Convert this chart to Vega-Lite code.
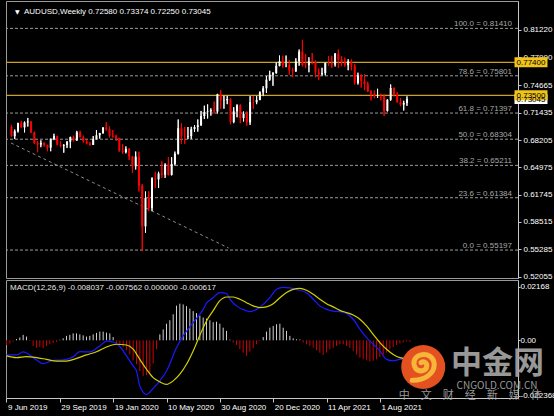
{
  "$schema": "https://vega.github.io/schema/vega-lite/v6.json",
  "background": "#000000",
  "padding": {"left": 3, "top": 0, "right": 0, "bottom": 0},
  "bounds": "flush",
  "spacing": 2,
  "config": {
    "view": {"stroke": "#9a9a9a", "strokeWidth": 1},
    "font": "Liberation Sans",
    "axis": {"labelFont": "Liberation Sans", "labelFontSize": 8, "labelColor": "#ffffff", "domainColor": "#c8c8c8", "tickColor": "#c8c8c8", "grid": false}
  },
  "datasets": {
    "candles": [
      {"d":"2019-06-09","o":0.6975,"h":0.7000,"l":0.6862,"c":0.6866,"m":-0.0019},
      {"d":"2019-06-16","o":0.6866,"h":0.6945,"l":0.6832,"c":0.6925,"m":-0.0013},
      {"d":"2019-06-23","o":0.6925,"h":0.7025,"l":0.6910,"c":0.7020,"m":-0.0005},
      {"d":"2019-06-30","o":0.7020,"h":0.7048,"l":0.6966,"c":0.6970,"m":0.0005},
      {"d":"2019-07-07","o":0.6970,"h":0.7040,"l":0.6911,"c":0.7030,"m":0.0011},
      {"d":"2019-07-14","o":0.7030,"h":0.7082,"l":0.6980,"c":0.7040,"m":0.0022},
      {"d":"2019-07-21","o":0.7040,"h":0.7045,"l":0.6906,"c":0.6910,"m":0.0015},
      {"d":"2019-07-28","o":0.6910,"h":0.6920,"l":0.6773,"c":0.6788,"m":-0.0003},
      {"d":"2019-08-04","o":0.6788,"h":0.6810,"l":0.6677,"c":0.6767,"m":-0.0023},
      {"d":"2019-08-11","o":0.6767,"h":0.6817,"l":0.6736,"c":0.6785,"m":-0.0030},
      {"d":"2019-08-18","o":0.6785,"h":0.6793,"l":0.6743,"c":0.6760,"m":-0.0027},
      {"d":"2019-08-25","o":0.6760,"h":0.6765,"l":0.6688,"c":0.6730,"m":-0.0032},
      {"d":"2019-09-01","o":0.6730,"h":0.6838,"l":0.6688,"c":0.6835,"m":-0.0023},
      {"d":"2019-09-08","o":0.6835,"h":0.6895,"l":0.6820,"c":0.6866,"m":-0.0016},
      {"d":"2019-09-15","o":0.6866,"h":0.6871,"l":0.6759,"c":0.6766,"m":-0.0011},
      {"d":"2019-09-22","o":0.6766,"h":0.6809,"l":0.6734,"c":0.6752,"m":-0.0007},
      {"d":"2019-09-29","o":0.6752,"h":0.6772,"l":0.6671,"c":0.6761,"m":0.0002},
      {"d":"2019-10-06","o":0.6761,"h":0.6809,"l":0.6726,"c":0.6800,"m":0.0008},
      {"d":"2019-10-13","o":0.6800,"h":0.6860,"l":0.6725,"c":0.6855,"m":0.0018},
      {"d":"2019-10-20","o":0.6855,"h":0.6871,"l":0.6803,"c":0.6818,"m":0.0022},
      {"d":"2019-10-27","o":0.6818,"h":0.6929,"l":0.6810,"c":0.6912,"m":0.0028},
      {"d":"2019-11-03","o":0.6912,"h":0.6930,"l":0.6851,"c":0.6855,"m":0.0028},
      {"d":"2019-11-10","o":0.6855,"h":0.6873,"l":0.6790,"c":0.6806,"m":0.0024},
      {"d":"2019-11-17","o":0.6806,"h":0.6829,"l":0.6770,"c":0.6780,"m":0.0020},
      {"d":"2019-11-24","o":0.6780,"h":0.6797,"l":0.6754,"c":0.6763,"m":0.0015},
      {"d":"2019-12-01","o":0.6763,"h":0.6867,"l":0.6763,"c":0.6832,"m":0.0018},
      {"d":"2019-12-08","o":0.6832,"h":0.6938,"l":0.6828,"c":0.6878,"m":0.0024},
      {"d":"2019-12-15","o":0.6878,"h":0.6905,"l":0.6838,"c":0.6904,"m":0.0030},
      {"d":"2019-12-22","o":0.6904,"h":0.6973,"l":0.6895,"c":0.6968,"m":0.0035},
      {"d":"2019-12-29","o":0.6968,"h":0.7032,"l":0.6930,"c":0.6952,"m":0.0035},
      {"d":"2020-01-05","o":0.6952,"h":0.6980,"l":0.6850,"c":0.6868,"m":0.0031},
      {"d":"2020-01-12","o":0.6868,"h":0.6938,"l":0.6850,"c":0.6862,"m":0.0028},
      {"d":"2020-01-19","o":0.6862,"h":0.6884,"l":0.6812,"c":0.6845,"m":0.0013},
      {"d":"2020-01-26","o":0.6845,"h":0.6848,"l":0.6682,"c":0.6693,"m":-0.0011},
      {"d":"2020-02-02","o":0.6693,"h":0.6774,"l":0.6658,"c":0.6678,"m":-0.0019},
      {"d":"2020-02-09","o":0.6678,"h":0.6745,"l":0.6663,"c":0.6715,"m":-0.0027},
      {"d":"2020-02-16","o":0.6715,"h":0.6725,"l":0.6585,"c":0.6625,"m":-0.0040},
      {"d":"2020-02-23","o":0.6625,"h":0.6630,"l":0.6434,"c":0.6510,"m":-0.0057},
      {"d":"2020-03-01","o":0.6510,"h":0.6685,"l":0.6472,"c":0.6625,"m":-0.0081},
      {"d":"2020-03-08","o":0.6625,"h":0.6683,"l":0.6212,"c":0.6280,"m":-0.0097},
      {"d":"2020-03-15","o":0.6280,"h":0.6300,"l":0.5506,"c":0.5800,"m":-0.0124},
      {"d":"2020-03-22","o":0.5800,"h":0.6212,"l":0.5724,"c":0.6135,"m":-0.0144},
      {"d":"2020-03-29","o":0.6135,"h":0.6214,"l":0.5980,"c":0.6015,"m":-0.0141},
      {"d":"2020-04-05","o":0.6015,"h":0.6380,"l":0.5980,"c":0.6368,"m":-0.0131},
      {"d":"2020-04-12","o":0.6368,"h":0.6445,"l":0.6254,"c":0.6355,"m":-0.0094},
      {"d":"2020-04-19","o":0.6355,"h":0.6445,"l":0.6253,"c":0.6426,"m":-0.0036},
      {"d":"2020-04-26","o":0.6426,"h":0.6570,"l":0.6372,"c":0.6410,"m":0.0024},
      {"d":"2020-05-03","o":0.6410,"h":0.6545,"l":0.6373,"c":0.6530,"m":0.0044},
      {"d":"2020-05-10","o":0.6530,"h":0.6617,"l":0.6402,"c":0.6408,"m":0.0067},
      {"d":"2020-05-17","o":0.6408,"h":0.6617,"l":0.6402,"c":0.6537,"m":0.0081},
      {"d":"2020-05-24","o":0.6537,"h":0.6684,"l":0.6520,"c":0.6658,"m":0.0105},
      {"d":"2020-05-31","o":0.6658,"h":0.7064,"l":0.6650,"c":0.6960,"m":0.0140},
      {"d":"2020-06-07","o":0.6960,"h":0.7018,"l":0.6777,"c":0.6862,"m":0.0148},
      {"d":"2020-06-14","o":0.6862,"h":0.6977,"l":0.6776,"c":0.6858,"m":0.0145},
      {"d":"2020-06-21","o":0.6858,"h":0.6975,"l":0.6832,"c":0.6866,"m":0.0138},
      {"d":"2020-06-28","o":0.6866,"h":0.6977,"l":0.6832,"c":0.6950,"m":0.0128},
      {"d":"2020-07-05","o":0.6950,"h":0.6998,"l":0.6918,"c":0.6975,"m":0.0118},
      {"d":"2020-07-12","o":0.6975,"h":0.7064,"l":0.6921,"c":0.6995,"m":0.0110},
      {"d":"2020-07-19","o":0.6995,"h":0.7165,"l":0.6989,"c":0.7105,"m":0.0100},
      {"d":"2020-07-26","o":0.7105,"h":0.7227,"l":0.7069,"c":0.7152,"m":0.0092},
      {"d":"2020-08-02","o":0.7152,"h":0.7242,"l":0.7076,"c":0.7159,"m":0.0088},
      {"d":"2020-08-09","o":0.7159,"h":0.7196,"l":0.7109,"c":0.7175,"m":0.0081},
      {"d":"2020-08-16","o":0.7175,"h":0.7276,"l":0.7133,"c":0.7158,"m":0.0073},
      {"d":"2020-08-23","o":0.7158,"h":0.7367,"l":0.7134,"c":0.7362,"m":0.0075},
      {"d":"2020-08-30","o":0.7362,"h":0.7414,"l":0.7191,"c":0.7287,"m":0.0067},
      {"d":"2020-09-06","o":0.7287,"h":0.7345,"l":0.7191,"c":0.7290,"m":0.0051},
      {"d":"2020-09-13","o":0.7290,"h":0.7345,"l":0.7245,"c":0.7305,"m":0.0038},
      {"d":"2020-09-20","o":0.7305,"h":0.7315,"l":0.7006,"c":0.7035,"m":0.0003},
      {"d":"2020-09-27","o":0.7035,"h":0.7209,"l":0.7020,"c":0.7160,"m":-0.0009},
      {"d":"2020-10-04","o":0.7160,"h":0.7243,"l":0.7090,"c":0.7230,"m":-0.0019},
      {"d":"2020-10-11","o":0.7230,"h":0.7243,"l":0.7020,"c":0.7080,"m":-0.0036},
      {"d":"2020-10-18","o":0.7080,"h":0.7158,"l":0.7040,"c":0.7130,"m":-0.0050},
      {"d":"2020-10-25","o":0.7130,"h":0.7160,"l":0.6991,"c":0.7030,"m":-0.0063},
      {"d":"2020-11-01","o":0.7030,"h":0.7340,"l":0.7000,"c":0.7270,"m":-0.0046},
      {"d":"2020-11-08","o":0.7270,"h":0.7340,"l":0.7190,"c":0.7268,"m":-0.0032},
      {"d":"2020-11-15","o":0.7268,"h":0.7340,"l":0.7245,"c":0.7295,"m":-0.0016},
      {"d":"2020-11-22","o":0.7295,"h":0.7396,"l":0.7292,"c":0.7385,"m":-0.0003},
      {"d":"2020-11-29","o":0.7385,"h":0.7458,"l":0.7340,"c":0.7433,"m":0.0013},
      {"d":"2020-12-06","o":0.7433,"h":0.7577,"l":0.7378,"c":0.7535,"m":0.0035},
      {"d":"2020-12-13","o":0.7535,"h":0.7640,"l":0.7520,"c":0.7593,"m":0.0051},
      {"d":"2020-12-20","o":0.7593,"h":0.7624,"l":0.7462,"c":0.7612,"m":0.0058},
      {"d":"2020-12-27","o":0.7612,"h":0.7742,"l":0.7605,"c":0.7697,"m":0.0065},
      {"d":"2021-01-03","o":0.7697,"h":0.7820,"l":0.7693,"c":0.7752,"m":0.0067},
      {"d":"2021-01-10","o":0.7752,"h":0.7819,"l":0.7676,"c":0.7706,"m":0.0051},
      {"d":"2021-01-17","o":0.7706,"h":0.7820,"l":0.7682,"c":0.7707,"m":0.0038},
      {"d":"2021-01-24","o":0.7707,"h":0.7764,"l":0.7592,"c":0.7646,"m":0.0018},
      {"d":"2021-01-31","o":0.7646,"h":0.7675,"l":0.7564,"c":0.7632,"m":0.0008},
      {"d":"2021-02-07","o":0.7632,"h":0.7787,"l":0.7628,"c":0.7750,"m":0.0004},
      {"d":"2021-02-14","o":0.7750,"h":0.7891,"l":0.7700,"c":0.7867,"m":0.0003},
      {"d":"2021-02-21","o":0.7867,"h":0.8007,"l":0.7690,"c":0.7708,"m":-0.0009},
      {"d":"2021-02-28","o":0.7708,"h":0.7838,"l":0.7670,"c":0.7706,"m":-0.0016},
      {"d":"2021-03-07","o":0.7706,"h":0.7800,"l":0.7622,"c":0.7752,"m":-0.0023},
      {"d":"2021-03-14","o":0.7752,"h":0.7849,"l":0.7715,"c":0.7743,"m":-0.0030},
      {"d":"2021-03-21","o":0.7743,"h":0.7763,"l":0.7563,"c":0.7620,"m":-0.0040},
      {"d":"2021-03-28","o":0.7620,"h":0.7667,"l":0.7532,"c":0.7598,"m":-0.0050},
      {"d":"2021-04-04","o":0.7598,"h":0.7675,"l":0.7583,"c":0.7612,"m":-0.0059},
      {"d":"2021-04-11","o":0.7612,"h":0.7735,"l":0.7586,"c":0.7736,"m":-0.0050},
      {"d":"2021-04-18","o":0.7736,"h":0.7815,"l":0.7700,"c":0.7727,"m":-0.0036},
      {"d":"2021-04-25","o":0.7727,"h":0.7817,"l":0.7675,"c":0.7713,"m":-0.0030},
      {"d":"2021-05-02","o":0.7713,"h":0.7850,"l":0.7690,"c":0.7843,"m":-0.0023},
      {"d":"2021-05-09","o":0.7843,"h":0.7891,"l":0.7675,"c":0.7772,"m":-0.0016},
      {"d":"2021-05-16","o":0.7772,"h":0.7813,"l":0.7694,"c":0.7738,"m":-0.0016},
      {"d":"2021-05-23","o":0.7738,"h":0.7795,"l":0.7688,"c":0.7705,"m":-0.0023},
      {"d":"2021-05-30","o":0.7705,"h":0.7776,"l":0.7646,"c":0.7750,"m":-0.0030},
      {"d":"2021-06-06","o":0.7750,"h":0.7775,"l":0.7645,"c":0.7697,"m":-0.0043},
      {"d":"2021-06-13","o":0.7697,"h":0.7718,"l":0.7477,"c":0.7497,"m":-0.0057},
      {"d":"2021-06-20","o":0.7497,"h":0.7617,"l":0.7477,"c":0.7585,"m":-0.0070},
      {"d":"2021-06-27","o":0.7585,"h":0.7597,"l":0.7440,"c":0.7520,"m":-0.0077},
      {"d":"2021-07-04","o":0.7520,"h":0.7600,"l":0.7410,"c":0.7480,"m":-0.0081},
      {"d":"2021-07-11","o":0.7480,"h":0.7510,"l":0.7387,"c":0.7397,"m":-0.0086},
      {"d":"2021-07-18","o":0.7397,"h":0.7410,"l":0.7290,"c":0.7367,"m":-0.0083},
      {"d":"2021-07-25","o":0.7367,"h":0.7405,"l":0.7315,"c":0.7343,"m":-0.0077},
      {"d":"2021-08-01","o":0.7343,"h":0.7427,"l":0.7318,"c":0.7347,"m":-0.0067},
      {"d":"2021-08-08","o":0.7347,"h":0.7370,"l":0.7289,"c":0.7343,"m":-0.0059},
      {"d":"2021-08-15","o":0.7343,"h":0.7360,"l":0.7106,"c":0.7165,"m":-0.0050},
      {"d":"2021-08-22","o":0.7165,"h":0.7302,"l":0.7158,"c":0.7297,"m":-0.0036},
      {"d":"2021-08-29","o":0.7297,"h":0.7478,"l":0.7285,"c":0.7437,"m":-0.0027},
      {"d":"2021-09-05","o":0.7437,"h":0.7442,"l":0.7335,"c":0.7357,"m":-0.0019},
      {"d":"2021-09-12","o":0.7357,"h":0.7390,"l":0.7265,"c":0.7267,"m":-0.0013},
      {"d":"2021-09-19","o":0.7267,"h":0.7318,"l":0.7221,"c":0.7240,"m":-0.0009},
      {"d":"2021-09-26","o":0.7240,"h":0.7285,"l":0.7170,"c":0.7258,"m":-0.0005},
      {"d":"2021-10-03","o":0.7258,"h":0.73374,"l":0.7225,"c":0.73045,"m":-0.0006}
    ],
    "macdline": [
      {"d":"2019-06-09","v":-0.0059},{"d":"2019-06-30","v":-0.0059},{"d":"2019-07-14","v":-0.0047},{"d":"2019-08-04","v":-0.0070},
      {"d":"2019-08-25","v":-0.0094},{"d":"2019-09-15","v":-0.0081},{"d":"2019-10-06","v":-0.0079},{"d":"2019-10-27","v":-0.0067},
      {"d":"2019-11-10","v":-0.0046},{"d":"2019-12-01","v":-0.0047},{"d":"2019-12-22","v":-0.0023},{"d":"2020-01-05","v":-0.0003},
      {"d":"2020-01-19","v":-0.0007},{"d":"2020-02-02","v":-0.0025},{"d":"2020-02-16","v":-0.0063},{"d":"2020-03-01","v":-0.0104},
      {"d":"2020-03-08","v":-0.0124},{"d":"2020-03-15","v":-0.0185},{"d":"2020-03-29","v":-0.0219},{"d":"2020-04-12","v":-0.0194},
      {"d":"2020-04-26","v":-0.0164},{"d":"2020-05-10","v":-0.0124},{"d":"2020-05-31","v":-0.0030},{"d":"2020-06-14","v":0.0018},
      {"d":"2020-07-05","v":0.0071},{"d":"2020-07-26","v":0.0125},{"d":"2020-08-02","v":0.0150},{"d":"2020-08-16","v":0.0172},
      {"d":"2020-08-30","v":0.0193},{"d":"2020-09-13","v":0.0189},{"d":"2020-09-20","v":0.0166},{"d":"2020-10-04","v":0.0139},
      {"d":"2020-10-25","v":0.0119},{"d":"2020-11-01","v":0.0116},{"d":"2020-11-15","v":0.0125},{"d":"2020-11-29","v":0.0145},
      {"d":"2020-12-13","v":0.0172},{"d":"2020-12-27","v":0.0206},{"d":"2021-01-10","v":0.0214},{"d":"2021-01-24","v":0.0212},
      {"d":"2021-02-07","v":0.0205},{"d":"2021-02-28","v":0.0192},{"d":"2021-03-14","v":0.0166},{"d":"2021-03-28","v":0.0139},
      {"d":"2021-04-11","v":0.0125},{"d":"2021-04-25","v":0.0118},{"d":"2021-05-09","v":0.0116},{"d":"2021-05-23","v":0.0108},
      {"d":"2021-06-06","v":0.0085},{"d":"2021-06-20","v":0.0045},{"d":"2021-07-04","v":0.0011},{"d":"2021-07-18","v":-0.0016},
      {"d":"2021-08-01","v":-0.0043},{"d":"2021-08-15","v":-0.0077},{"d":"2021-08-29","v":-0.0083},{"d":"2021-09-12","v":-0.0077},
      {"d":"2021-10-03","v":-0.0080}
    ],
    "signal": [
      {"d":"2019-06-09","v":-0.0063},{"d":"2019-06-30","v":-0.0070},{"d":"2019-07-21","v":-0.0066},{"d":"2019-08-11","v":-0.0070},
      {"d":"2019-09-01","v":-0.0077},{"d":"2019-09-22","v":-0.0084},{"d":"2019-10-13","v":-0.0084},{"d":"2019-11-03","v":-0.0073},
      {"d":"2019-11-24","v":-0.0059},{"d":"2019-12-15","v":-0.0046},{"d":"2020-01-05","v":-0.0027},{"d":"2020-01-26","v":-0.0016},
      {"d":"2020-02-16","v":-0.0019},{"d":"2020-03-01","v":-0.0036},{"d":"2020-03-15","v":-0.0077},{"d":"2020-03-29","v":-0.0117},
      {"d":"2020-04-12","v":-0.0151},{"d":"2020-04-26","v":-0.0168},{"d":"2020-05-10","v":-0.0178},{"d":"2020-05-24","v":-0.0164},
      {"d":"2020-06-07","v":-0.0137},{"d":"2020-06-21","v":-0.0097},{"d":"2020-07-05","v":-0.0043},{"d":"2020-07-19","v":0.0020},
      {"d":"2020-08-02","v":0.0078},{"d":"2020-08-16","v":0.0120},{"d":"2020-08-30","v":0.0160},{"d":"2020-09-13","v":0.0175},
      {"d":"2020-09-27","v":0.0175},{"d":"2020-10-11","v":0.0166},{"d":"2020-10-25","v":0.0152},{"d":"2020-11-08","v":0.0139},
      {"d":"2020-11-22","v":0.0132},{"d":"2020-12-06","v":0.0135},{"d":"2020-12-20","v":0.0148},{"d":"2021-01-03","v":0.0172},
      {"d":"2021-01-17","v":0.0193},{"d":"2021-01-31","v":0.0206},{"d":"2021-02-14","v":0.0210},{"d":"2021-02-28","v":0.0202},
      {"d":"2021-03-14","v":0.0186},{"d":"2021-03-28","v":0.0166},{"d":"2021-04-11","v":0.0148},{"d":"2021-04-25","v":0.0135},
      {"d":"2021-05-09","v":0.0121},{"d":"2021-05-23","v":0.0112},{"d":"2021-06-06","v":0.0102},{"d":"2021-06-20","v":0.0085},
      {"d":"2021-07-04","v":0.0058},{"d":"2021-07-18","v":0.0024},{"d":"2021-08-01","v":-0.0009},{"d":"2021-08-15","v":-0.0036},
      {"d":"2021-08-29","v":-0.0057},{"d":"2021-09-12","v":-0.0070},{"d":"2021-10-03","v":-0.0076}
    ],
    "fib": [
      {"p":0.81410,"t":"100.0 = 0.81410"},
      {"p":0.75801,"t":"78.6 = 0.75801"},
      {"p":0.71397,"t":"61.8 = 0.71397"},
      {"p":0.68304,"t":"50.0 = 0.68304"},
      {"p":0.65211,"t":"38.2 = 0.65211"},
      {"p":0.61384,"t":"23.6 = 0.61384"},
      {"p":0.55197,"t":"0.0 = 0.55197"}
    ],
    "levels": [{"p":0.774},{"p":0.735}],
    "boxes": [
      {"p":0.73045,"t":"0.73045","k":"bid"},
      {"p":0.774,"t":"0.77400","k":"level"},
      {"p":0.735,"t":"0.73500","k":"level"}
    ]
  },
  "vconcat": [
    {
      "width": 512,
      "height": 277,
      "resolve": {"axis": {"x": "independent", "y": "independent"}},
      "layer": [
        {
          "data": {"name": "candles"},
          "mark": {"type": "rule", "strokeWidth": 1},
          "encoding": {
            "x": {"field": "d", "type": "temporal", "scale": {"type": "utc", "domain": [{"year": 2019, "month": 6, "date": 8, "utc": true}, {"year": 2022, "month": 5, "date": 18, "utc": true}]}, "axis": null},
            "y": {"field": "l", "type": "quantitative", "scale": {"domain": [0.51892, 0.84649], "nice": false, "zero": false},
              "axis": {"orient": "right", "title": null, "values": [0.8122, 0.7799, 0.74665, 0.71435, 0.68205, 0.64975, 0.61745, 0.58515, 0.55285, 0.52055], "format": ".5f", "tickSize": 3, "labelPadding": 2, "minExtent": 39, "maxExtent": 39, "labelFlush": false, "labelOverlap": false, "labelFontSize": 8, "labelColor": "#ffffff"}},
            "y2": {"field": "h"},
            "color": {"condition": {"test": "datum.c >= datum.o", "value": "#ffffff"}, "value": "#ff0000"}
          }
        },
        {
          "data": {"name": "fib"},
          "mark": {"type": "rule", "color": "#9a9a9a", "strokeWidth": 1, "strokeDash": [3, 2]},
          "encoding": {
            "y": {"field": "p", "type": "quantitative", "scale": {"domain": [0.51892, 0.84649], "nice": false, "zero": false}, "axis": null}
          }
        },
        {
          "data": {"name": "fib"},
          "mark": {"type": "text", "align": "right", "baseline": "alphabetic", "dx": -1, "dy": -2, "fontSize": 8, "color": "#a8a8a8", "font": "Liberation Sans"},
          "encoding": {
            "x": {"datum": {"year": 2022, "month": 5, "date": 18, "utc": true}, "type": "temporal", "scale": {"type": "utc", "domain": [{"year": 2019, "month": 6, "date": 8, "utc": true}, {"year": 2022, "month": 5, "date": 18, "utc": true}]}, "axis": null},
            "y": {"field": "p", "type": "quantitative", "scale": {"domain": [0.51892, 0.84649], "nice": false, "zero": false}, "axis": null},
            "text": {"field": "t"}
          }
        },
        {
          "data": {"values": [{"d1": "2019-06-08", "p1": 0.6786, "d2": "2020-09-16", "p2": 0.5544}]},
          "mark": {"type": "rule", "color": "#8a8a8a", "strokeWidth": 1, "strokeDash": [3, 3]},
          "encoding": {
            "x": {"field": "d1", "type": "temporal", "scale": {"type": "utc", "domain": [{"year": 2019, "month": 6, "date": 8, "utc": true}, {"year": 2022, "month": 5, "date": 18, "utc": true}]}, "axis": null},
            "x2": {"field": "d2"},
            "y": {"field": "p1", "type": "quantitative", "scale": {"domain": [0.51892, 0.84649], "nice": false, "zero": false}, "axis": null},
            "y2": {"field": "p2"}
          }
        },
        {
          "data": {"name": "levels"},
          "mark": {"type": "rule", "color": "#c9a227", "strokeWidth": 1.2},
          "encoding": {
            "y": {"field": "p", "type": "quantitative", "scale": {"domain": [0.51892, 0.84649], "nice": false, "zero": false}, "axis": null}
          }
        },
        {
          "data": {"name": "candles"},
          "mark": {"type": "rule", "strokeWidth": 1},
          "encoding": {
            "x": {"field": "d", "type": "temporal", "scale": {"type": "utc", "domain": [{"year": 2019, "month": 6, "date": 8, "utc": true}, {"year": 2022, "month": 5, "date": 18, "utc": true}]}, "axis": null},
            "y": {"field": "l", "type": "quantitative", "scale": {"domain": [0.51892, 0.84649], "nice": false, "zero": false}, "axis": null},
            "y2": {"field": "h"},
            "color": {"condition": {"test": "datum.c >= datum.o", "value": "#ffffff"}, "value": "#ff0000"}
          }
        },
        {
          "data": {"name": "candles"},
          "mark": {"type": "bar", "size": 2},
          "encoding": {
            "x": {"field": "d", "type": "temporal", "scale": {"type": "utc", "domain": [{"year": 2019, "month": 6, "date": 8, "utc": true}, {"year": 2022, "month": 5, "date": 18, "utc": true}]}, "axis": null},
            "y": {"field": "o", "type": "quantitative", "scale": {"domain": [0.51892, 0.84649], "nice": false, "zero": false}, "axis": null},
            "y2": {"field": "c"},
            "color": {"condition": {"test": "datum.c >= datum.o", "value": "#ffffff"}, "value": "#ff0000"}
          }
        },
        {
          "data": {"values": [{"t": "AUDUSD,Weekly  0.72580 0.73374 0.72250 0.73045"}]},
          "mark": {"type": "text", "align": "left", "baseline": "middle", "dx": 13, "dy": 11, "fontSize": 8, "color": "#ffffff", "font": "Liberation Sans"},
          "encoding": {
            "x": {"datum": {"year": 2019, "month": 6, "date": 8, "utc": true}, "type": "temporal", "scale": {"type": "utc", "domain": [{"year": 2019, "month": 6, "date": 8, "utc": true}, {"year": 2022, "month": 5, "date": 18, "utc": true}]}, "axis": null},
            "y": {"datum": 0.84649, "type": "quantitative", "scale": {"domain": [0.51892, 0.84649], "nice": false, "zero": false}, "axis": null},
            "text": {"field": "t"}
          }
        },
        {
          "data": {"values": [{"t": "▼"}]},
          "mark": {"type": "text", "align": "left", "baseline": "middle", "dx": 4, "dy": 11, "fontSize": 6, "color": "#ffffff", "font": "DejaVu Sans"},
          "encoding": {
            "x": {"datum": {"year": 2019, "month": 6, "date": 8, "utc": true}, "type": "temporal", "scale": {"type": "utc", "domain": [{"year": 2019, "month": 6, "date": 8, "utc": true}, {"year": 2022, "month": 5, "date": 18, "utc": true}]}, "axis": null},
            "y": {"datum": 0.84649, "type": "quantitative", "scale": {"domain": [0.51892, 0.84649], "nice": false, "zero": false}, "axis": null},
            "text": {"field": "t"}
          }
        },
        {
          "data": {"name": "boxes"},
          "mark": {"type": "point", "shape": "M-1,-0.3H1V0.3H-1Z", "size": 1089, "filled": true, "opacity": 1, "xOffset": 18, "clip": false},
          "encoding": {
            "x": {"datum": {"year": 2022, "month": 5, "date": 18, "utc": true}, "type": "temporal", "scale": {"type": "utc", "domain": [{"year": 2019, "month": 6, "date": 8, "utc": true}, {"year": 2022, "month": 5, "date": 18, "utc": true}]}, "axis": null},
            "y": {"field": "p", "type": "quantitative", "scale": {"domain": [0.51892, 0.84649], "nice": false, "zero": false}, "axis": null},
            "color": {"condition": {"test": "datum.k == 'bid'", "value": "#ffffff"}, "value": "#f0c419"}
          }
        },
        {
          "data": {"name": "boxes"},
          "mark": {"type": "text", "align": "center", "baseline": "middle", "xOffset": 18, "dy": 0.5, "fontSize": 8, "color": "#000000", "font": "Liberation Sans", "clip": false},
          "encoding": {
            "x": {"datum": {"year": 2022, "month": 5, "date": 18, "utc": true}, "type": "temporal", "scale": {"type": "utc", "domain": [{"year": 2019, "month": 6, "date": 8, "utc": true}, {"year": 2022, "month": 5, "date": 18, "utc": true}]}, "axis": null},
            "y": {"field": "p", "type": "quantitative", "scale": {"domain": [0.51892, 0.84649], "nice": false, "zero": false}, "axis": null},
            "text": {"field": "t"}
          }
        }
      ]
    },
    {
      "width": 512,
      "height": 118,
      "resolve": {"axis": {"x": "independent", "y": "independent"}},
      "layer": [
        {
          "data": {"name": "candles"},
          "mark": {"type": "rule", "strokeWidth": 1},
          "encoding": {
            "x": {"field": "d", "type": "temporal", "scale": {"type": "utc", "domain": [{"year": 2019, "month": 6, "date": 8, "utc": true}, {"year": 2022, "month": 5, "date": 18, "utc": true}]},
              "axis": {"orient": "bottom", "title": null, "values": [{"year": 2019, "month": 6, "date": 9, "utc": true}, {"year": 2019, "month": 9, "date": 29, "utc": true}, {"year": 2020, "month": 1, "date": 19, "utc": true}, {"year": 2020, "month": 5, "date": 10, "utc": true}, {"year": 2020, "month": 8, "date": 30, "utc": true}, {"year": 2020, "month": 12, "date": 20, "utc": true}, {"year": 2021, "month": 4, "date": 11, "utc": true}, {"year": 2021, "month": 8, "date": 1, "utc": true}],
                "format": "%-d %b %Y", "labelAlign": "left", "labelOffset": 1, "tickSize": 4, "labelPadding": 1, "minExtent": 19, "maxExtent": 19, "labelFlush": false, "labelOverlap": false, "labelFontSize": 8, "labelColor": "#ffffff"}},
            "y": {"field": "m", "type": "quantitative", "scale": {"domain": [-0.02331, 0.02436], "nice": false, "zero": false},
              "axis": {"orient": "right", "title": null, "values": [0.02168, 0, -0.022368], "labelExpr": "datum.value > 0.01 ? '0.02168' : (datum.value < -0.01 ? '-0.022368' : '0.00')", "tickSize": 2, "labelPadding": 0, "minExtent": 39, "maxExtent": 39, "labelFlush": false, "labelOverlap": false, "labelFontSize": 8, "labelColor": "#ffffff"}},
            "y2": {"datum": 0},
            "color": {"condition": {"test": "datum.m >= 0", "value": "#d0d0d0"}, "value": "#d00000"}
          }
        },
        {
          "data": {"name": "macdline"},
          "mark": {"type": "line", "color": "#1a1aff", "strokeWidth": 1.2, "interpolate": "monotone"},
          "encoding": {
            "x": {"field": "d", "type": "temporal", "scale": {"type": "utc", "domain": [{"year": 2019, "month": 6, "date": 8, "utc": true}, {"year": 2022, "month": 5, "date": 18, "utc": true}]}, "axis": null},
            "y": {"field": "v", "type": "quantitative", "scale": {"domain": [-0.02331, 0.02436], "nice": false, "zero": false}, "axis": null}
          }
        },
        {
          "data": {"name": "signal"},
          "mark": {"type": "line", "color": "#d4d000", "strokeWidth": 1.2, "interpolate": "monotone"},
          "encoding": {
            "x": {"field": "d", "type": "temporal", "scale": {"type": "utc", "domain": [{"year": 2019, "month": 6, "date": 8, "utc": true}, {"year": 2022, "month": 5, "date": 18, "utc": true}]}, "axis": null},
            "y": {"field": "v", "type": "quantitative", "scale": {"domain": [-0.02331, 0.02436], "nice": false, "zero": false}, "axis": null}
          }
        },
        {
          "data": {"values": [{"t": "MACD(12,26,9) -0.008037 -0.007562 0.000000 -0.000617"}]},
          "mark": {"type": "text", "align": "left", "baseline": "middle", "dx": 4, "dy": 8, "fontSize": 8, "color": "#e6e6e6", "font": "Liberation Sans"},
          "encoding": {
            "x": {"datum": {"year": 2019, "month": 6, "date": 8, "utc": true}, "type": "temporal", "scale": {"type": "utc", "domain": [{"year": 2019, "month": 6, "date": 8, "utc": true}, {"year": 2022, "month": 5, "date": 18, "utc": true}]}, "axis": null},
            "y": {"datum": 0.02436, "type": "quantitative", "scale": {"domain": [-0.02331, 0.02436], "nice": false, "zero": false}, "axis": null},
            "text": {"field": "t"}
          }
        },
        {
          "data": {"values": [{"d": "2021-10-31", "v": -0.0108}]},
          "mark": {"type": "point", "shape": "circle", "size": 1936, "filled": true, "opacity": 1, "color": "#e2511f", "clip": false},
          "encoding": {
            "x": {"field": "d", "type": "temporal", "scale": {"type": "utc", "domain": [{"year": 2019, "month": 6, "date": 8, "utc": true}, {"year": 2022, "month": 5, "date": 18, "utc": true}]}, "axis": null},
            "y": {"field": "v", "type": "quantitative", "scale": {"domain": [-0.02331, 0.02436], "nice": false, "zero": false}, "axis": null}
          }
        },
        {
          "data": {"values": [{"d": "2021-10-31", "v": -0.0108}]},
          "mark": {"type": "point", "shape": "M-0.5,0.6 C0.05,0.62 0.5,0.3 0.5,-0.1 C0.5,-0.45 0.2,-0.62 -0.1,-0.55 C-0.42,-0.48 -0.5,-0.18 -0.35,0.05 C-0.2,0.25 0.15,0.2 0.16,-0.05 C0.17,-0.2 0.02,-0.28 -0.1,-0.2", "size": 1936, "filled": false, "opacity": 1, "stroke": "#f7b53a", "strokeWidth": 5, "strokeCap": "round", "clip": false},
          "encoding": {
            "x": {"field": "d", "type": "temporal", "scale": {"type": "utc", "domain": [{"year": 2019, "month": 6, "date": 8, "utc": true}, {"year": 2022, "month": 5, "date": 18, "utc": true}]}, "axis": null},
            "y": {"field": "v", "type": "quantitative", "scale": {"domain": [-0.02331, 0.02436], "nice": false, "zero": false}, "axis": null}
          }
        },
        {
          "data": {"values": [
            {"d": "2022-04-05", "v": -0.0094, "t": "中金网"}
          ]},
          "mark": {"type": "text", "align": "center", "baseline": "middle", "color": "#a9a9a9", "opacity": 0.9, "font": "Noto Sans CJK SC", "fontWeight": "bold", "fontSize": 31, "clip": false},
          "encoding": {
            "x": {"field": "d", "type": "temporal", "scale": {"type": "utc", "domain": [{"year": 2019, "month": 6, "date": 8, "utc": true}, {"year": 2022, "month": 5, "date": 18, "utc": true}]}, "axis": null},
            "y": {"field": "v", "type": "quantitative", "scale": {"domain": [-0.02331, 0.02436], "nice": false, "zero": false}, "axis": null},
            "text": {"field": "t"}
          }
        },
        {
          "data": {"values": [
            {"d": "2022-04-04", "v": -0.01846, "t": "CNGOLD.COM.CN", "s": 10},
            {"d": "2022-02-07", "v": -0.0225, "t": "中　文　财　经　新　媒　体", "s": 11}
          ]},
          "mark": {"type": "text", "align": "center", "baseline": "middle", "color": "#a9a9a9", "opacity": 0.9, "font": "Noto Sans CJK SC", "clip": false},
          "encoding": {
            "x": {"field": "d", "type": "temporal", "scale": {"type": "utc", "domain": [{"year": 2019, "month": 6, "date": 8, "utc": true}, {"year": 2022, "month": 5, "date": 18, "utc": true}]}, "axis": null},
            "y": {"field": "v", "type": "quantitative", "scale": {"domain": [-0.02331, 0.02436], "nice": false, "zero": false}, "axis": null},
            "text": {"field": "t"},
            "size": {"field": "s", "type": "quantitative", "scale": null, "legend": null}
          }
        }
      ]
    }
  ]
}
